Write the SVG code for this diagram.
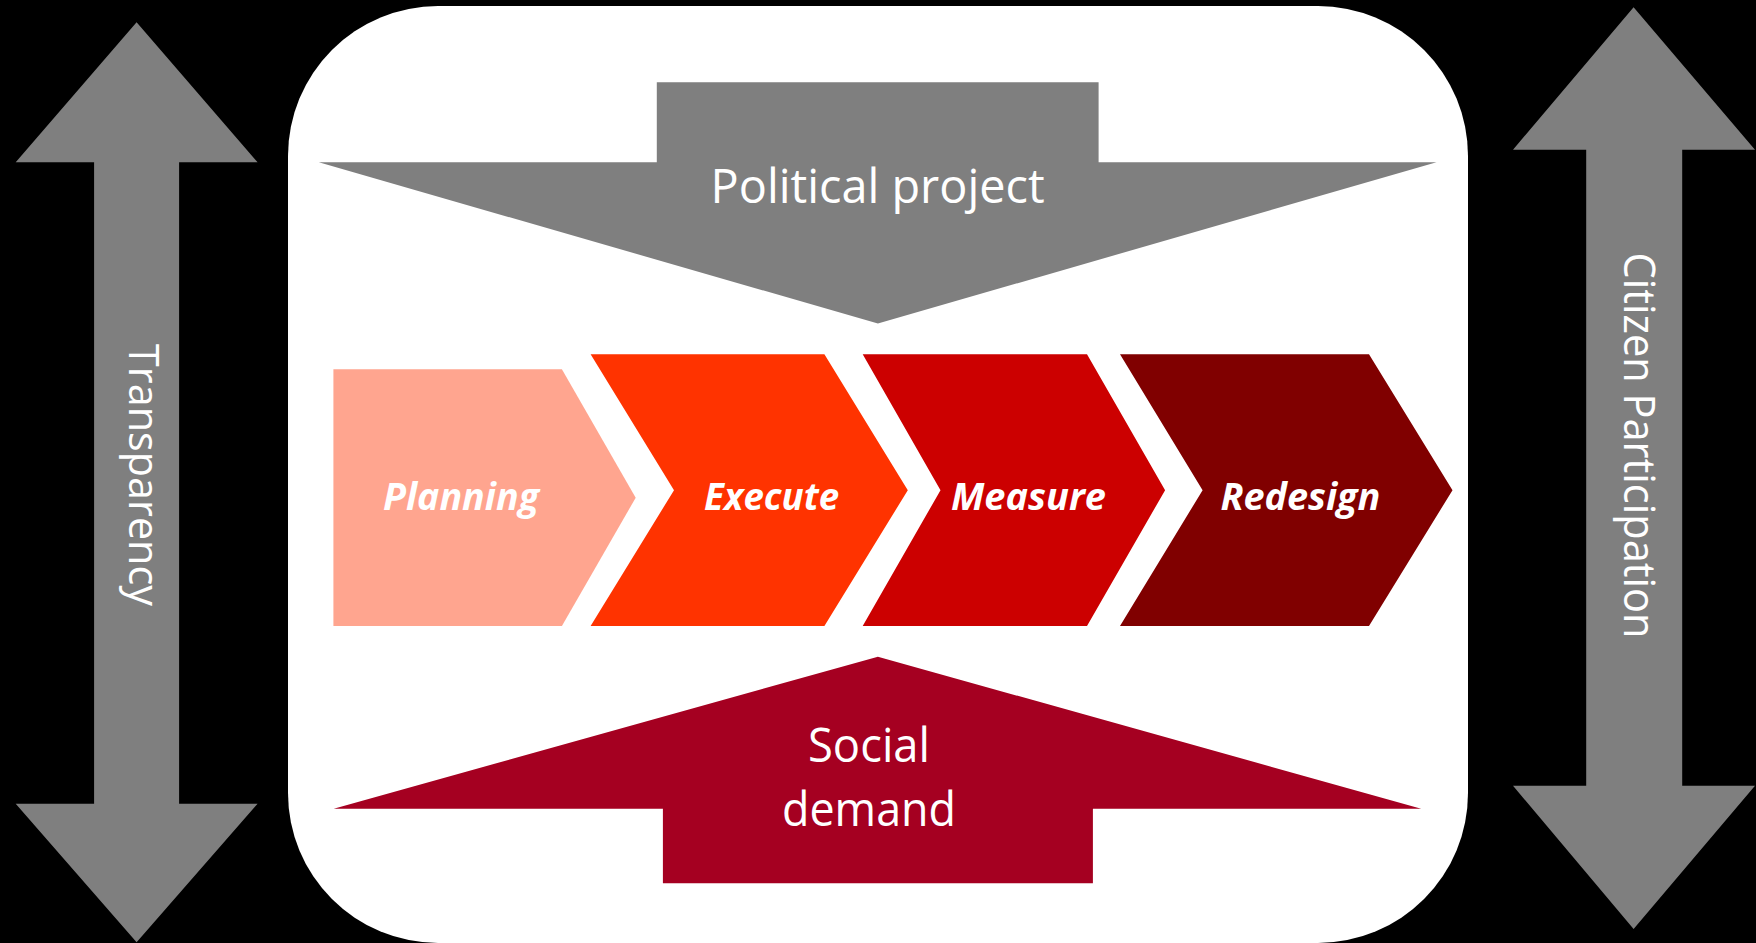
<svg xmlns="http://www.w3.org/2000/svg" width="1756" height="943" viewBox="0 0 1756 943">
<style>
.lbl{font-family:"Open Sans","Noto Sans","Liberation Sans",sans-serif;fill:#ffffff;}
.big{font-size:47px;}
.vert{font-size:42px;}
.chev{font-size:37px;font-weight:bold;font-style:italic;}
.gray{fill:#7f7f7f;}
</style>
<rect x="0" y="0" width="1756" height="943" fill="#000000"/>
<rect id="frame" x="288" y="6" width="1180" height="937" rx="150" ry="150" fill="#ffffff"/>
<g id="transparency">
<polygon class="gray" points="136.6,22.3 257.6,162.3 179.1,162.3 179.1,803.7 257.6,803.7 136.6,942.3 15.7,803.7 94.1,803.7 94.1,162.3 15.7,162.3"/>
<text class="lbl vert" transform="translate(129,475) rotate(90)" text-anchor="middle" textLength="262" lengthAdjust="spacingAndGlyphs">Transparency</text>
</g>
<g id="citizen-participation">
<polygon class="gray" points="1633.6,7.3 1755,149.7 1682.2,149.7 1682.2,785.7 1755,785.7 1633.6,929 1513,785.7 1586.2,785.7 1586.2,149.7 1513,149.7"/>
<text class="lbl" style="font-size:44px" transform="translate(1624.3,445.5) rotate(90)" text-anchor="middle" textLength="386" lengthAdjust="spacingAndGlyphs">Citizen Participation</text>
</g>
<g id="political-project">
<polygon class="gray" points="656.8,82.3 1098.6,82.3 1098.6,162.3 1436.5,162.3 877.9,323.5 318.8,162.3 656.8,162.3"/>
<text class="lbl big" x="877.6" y="202.7" text-anchor="middle" textLength="334" lengthAdjust="spacingAndGlyphs">Political project</text>
</g>
<g id="social-demand">
<polygon fill="#a50021" points="877.9,656.7 1421.2,808.7 1092.9,808.7 1092.9,883.3 662.9,883.3 662.9,808.7 333.7,808.7"/>
<text class="lbl big" x="869" y="761.7" text-anchor="middle" textLength="122" lengthAdjust="spacingAndGlyphs">Social</text>
<text class="lbl big" x="869" y="825.7" text-anchor="middle" textLength="174" lengthAdjust="spacingAndGlyphs">demand</text>
</g>
<g id="planning">
<polygon fill="#ffa58f" points="333.4,369.3 561.9,369.3 635.7,497.7 561.9,626 333.4,626"/>
<text class="lbl chev" x="461" y="510" text-anchor="middle" textLength="156" lengthAdjust="spacingAndGlyphs">Planning</text>
</g>
<g id="execute">
<polygon fill="#ff3300" points="590.6,354.3 824.4,354.3 907.8,490.2 824.4,626 590.6,626 674,490.2"/>
<text class="lbl chev" x="771.6" y="510" text-anchor="middle" textLength="135" lengthAdjust="spacingAndGlyphs">Execute</text>
</g>
<g id="measure">
<polygon fill="#cc0000" points="862.7,354.3 1087,354.3 1165.1,490.2 1087,626 862.7,626 940.5,490.2"/>
<text class="lbl chev" x="1028.5" y="510" text-anchor="middle" textLength="155" lengthAdjust="spacingAndGlyphs">Measure</text>
</g>
<g id="redesign">
<polygon fill="#800000" points="1120,354.3 1369,354.3 1452.5,490.2 1369,626 1120,626 1202.6,490.2"/>
<text class="lbl chev" x="1300.4" y="510" text-anchor="middle" textLength="160" lengthAdjust="spacingAndGlyphs">Redesign</text>
</g>
<g id="connectors"></g>
</svg>
